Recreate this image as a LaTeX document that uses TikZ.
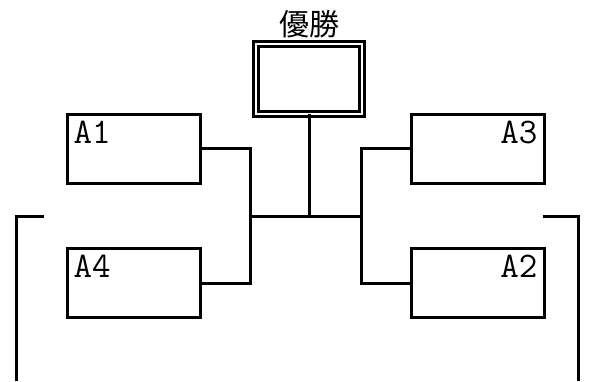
\documentclass[tikz,border=0pt]{standalone}
\usepackage{fontspec}
\newfontfamily\jpfont{Noto Sans CJK JP}
\usetikzlibrary{positioning,calc}

\begin{document}
\begin{tikzpicture}[
 x=0.5pt,y=-0.5pt,line width=1.5pt,
 entry/.style={draw,rectangle,minimum width=66.5pt,minimum height=34.5pt,inner sep=0pt,outer sep=0pt},
 tag/.style={font=\ttfamily\fontsize{18}{18}\selectfont,inner sep=2.5pt},
 final/.style={draw,double,double distance=1pt,rectangle,minimum width=53pt,minimum height=35pt,inner sep=0pt,outer sep=0pt}]
\useasboundingbox (0,0) rectangle (594,381);
% winner
\node[final] (win) at (309,79) {};
\node[font=\jpfont\fontsize{15}{15}\selectfont,above=-1pt of win] (wintitle) {優勝};
% entries
\node[entry,label={[tag,anchor=north west]north west:A1}] (a1) at (133.5,148.5) {};
\node[entry,label={[tag,anchor=north west]north west:A4}] (a4) at (133.5,283) {};
\node[entry,label={[tag,anchor=north east]north east:A3}] (a3) at (477.5,148.5) {};
\node[entry,label={[tag,anchor=north east]north east:A2}] (a2) at (477.5,283) {};
% junctions
\coordinate (lj) at (250,216);
\coordinate (rj) at (361,216);
\draw (a1.east) -| (lj) |- (a4.east);
\draw (a3.west) -| (rj) |- (a2.west);
\draw (lj) -- (rj);
\draw (win.south) -- (win.south |- lj);
% brackets
\coordinate (lb) at (44,216);
\coordinate (lbe) at (16,381);
\coordinate (rb) at (543,216);
\coordinate (rbe) at (578,381);
\draw (lb) -| (lbe);
\draw (rb) -| (rbe);
\end{tikzpicture}
\end{document}
